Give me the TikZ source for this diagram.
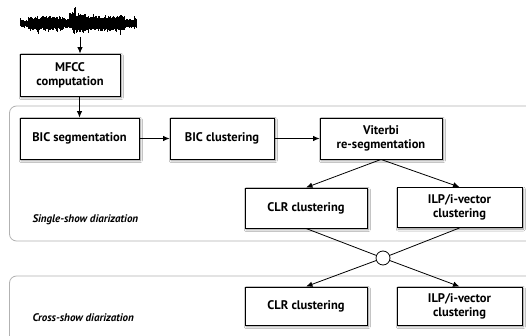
\documentclass[tikz,border=0pt]{standalone}
\usepackage{fontspec}
\setmainfont{PT Sans}
\usetikzlibrary{arrows.meta,shadows.blur}
\tikzset{
 box/.style={draw=black, line width=0.9pt, fill=white, align=center,
   font=\bfseries\fontsize{12.5}{14}\selectfont, inner sep=0pt,
   blur shadow={shadow xshift=1.3pt, shadow yshift=-1.6pt, shadow blur steps=6, shadow opacity=45}},
 panel/.style={draw=black!30, line width=0.8pt, rounded corners=7pt},
 arr/.style={-{Latex[length=6.5pt,width=5.5pt]}, line width=0.8pt},
 con/.style={line width=0.8pt},
 lbl/.style={font=\bfseries\itshape\fontsize{11}{13}\selectfont, anchor=west},
 junction/.style={circle, draw=black, line width=0.8pt, fill=white, minimum size=14pt, inner sep=0pt}
}
\begin{document}
\begin{tikzpicture}[x=1pt,y=-1pt]
\clip (0,0) rectangle (526,336);
\fill[white] (0,0) rectangle (526,336);
% panels
\draw[panel] (9.5,106) rectangle (560,241);
\draw[panel] (9.5,276) rectangle (560,380);
% waveform
\pgfmathsetseed{11}
\foreach \i in {0,...,116}{
  \pgfmathsetmacro\env{ifthenelse(\i<8,3.5,ifthenelse(\i<44,6.5,ifthenelse(\i<52,4.5,ifthenelse(\i<68,8.5,ifthenelse(\i<105,7,4)))))}
  \pgfmathsetmacro\a{\env*(0.65+0.45*rnd)+(rnd>0.85)*4*rnd+(abs(\i-52)<4)*6*rnd}
  \pgfmathsetmacro\b{\env*(0.65+0.45*rnd)+(rnd>0.85)*3.5*rnd}
  \fill[black] (20.5+\i-0.8,23-\a) rectangle (20.5+\i+0.8,24+\b);
}
\coordinate (wbot) at (80,37);
% boxes
\node[box, minimum width=100pt, minimum height=42pt] (mfcc) at (70,75) {MFCC\\computation};
\node[box, minimum width=119pt, minimum height=41pt] (bicseg) at (79.5,138.5) {BIC segmentation};
\node[box, minimum width=104pt, minimum height=41pt] (biccl) at (222,138.5) {BIC clustering};
\node[box, minimum width=122pt, minimum height=41pt] (vit) at (381,138.5) {Viterbi\\re-segmentation};
\node[box, minimum width=122pt, minimum height=40pt] (clra) at (306,208) {CLR clustering};
\node[box, minimum width=125pt, minimum height=40pt] (ilpa) at (459.5,207.5) {ILP/i-vector\\clustering};
\node[box, minimum width=122pt, minimum height=38pt] (clrb) at (306,306) {CLR clustering};
\node[box, minimum width=125pt, minimum height=38pt] (ilpb) at (459.5,306) {ILP/i-vector\\clustering};
\node[junction] (j) at (383,258) {};
% labels
\node[lbl] (lsingle) at (29,220) {Single-show diarization};
\node[lbl] (lcross) at (29,318) {Cross-show diarization};
% connectors
\draw[arr] (wbot) -- (wbot |- mfcc.north);
\draw[arr] (bicseg.north |- mfcc.south) -- (bicseg.north);
\draw[arr] (bicseg.east) -- (biccl.west);
\draw[arr] (biccl.east) -- (vit.west);
\draw[arr] (vit.south) -- (clra.north);
\draw[arr] (vit.south) -- (ilpa.north);
\draw[con] (clra.south) -- (j);
\draw[con] (ilpa.south) -- (j);
\draw[arr] (j) -- (clrb.north);
\draw[arr] (j) -- (ilpb.north);
\end{tikzpicture}
\end{document}
